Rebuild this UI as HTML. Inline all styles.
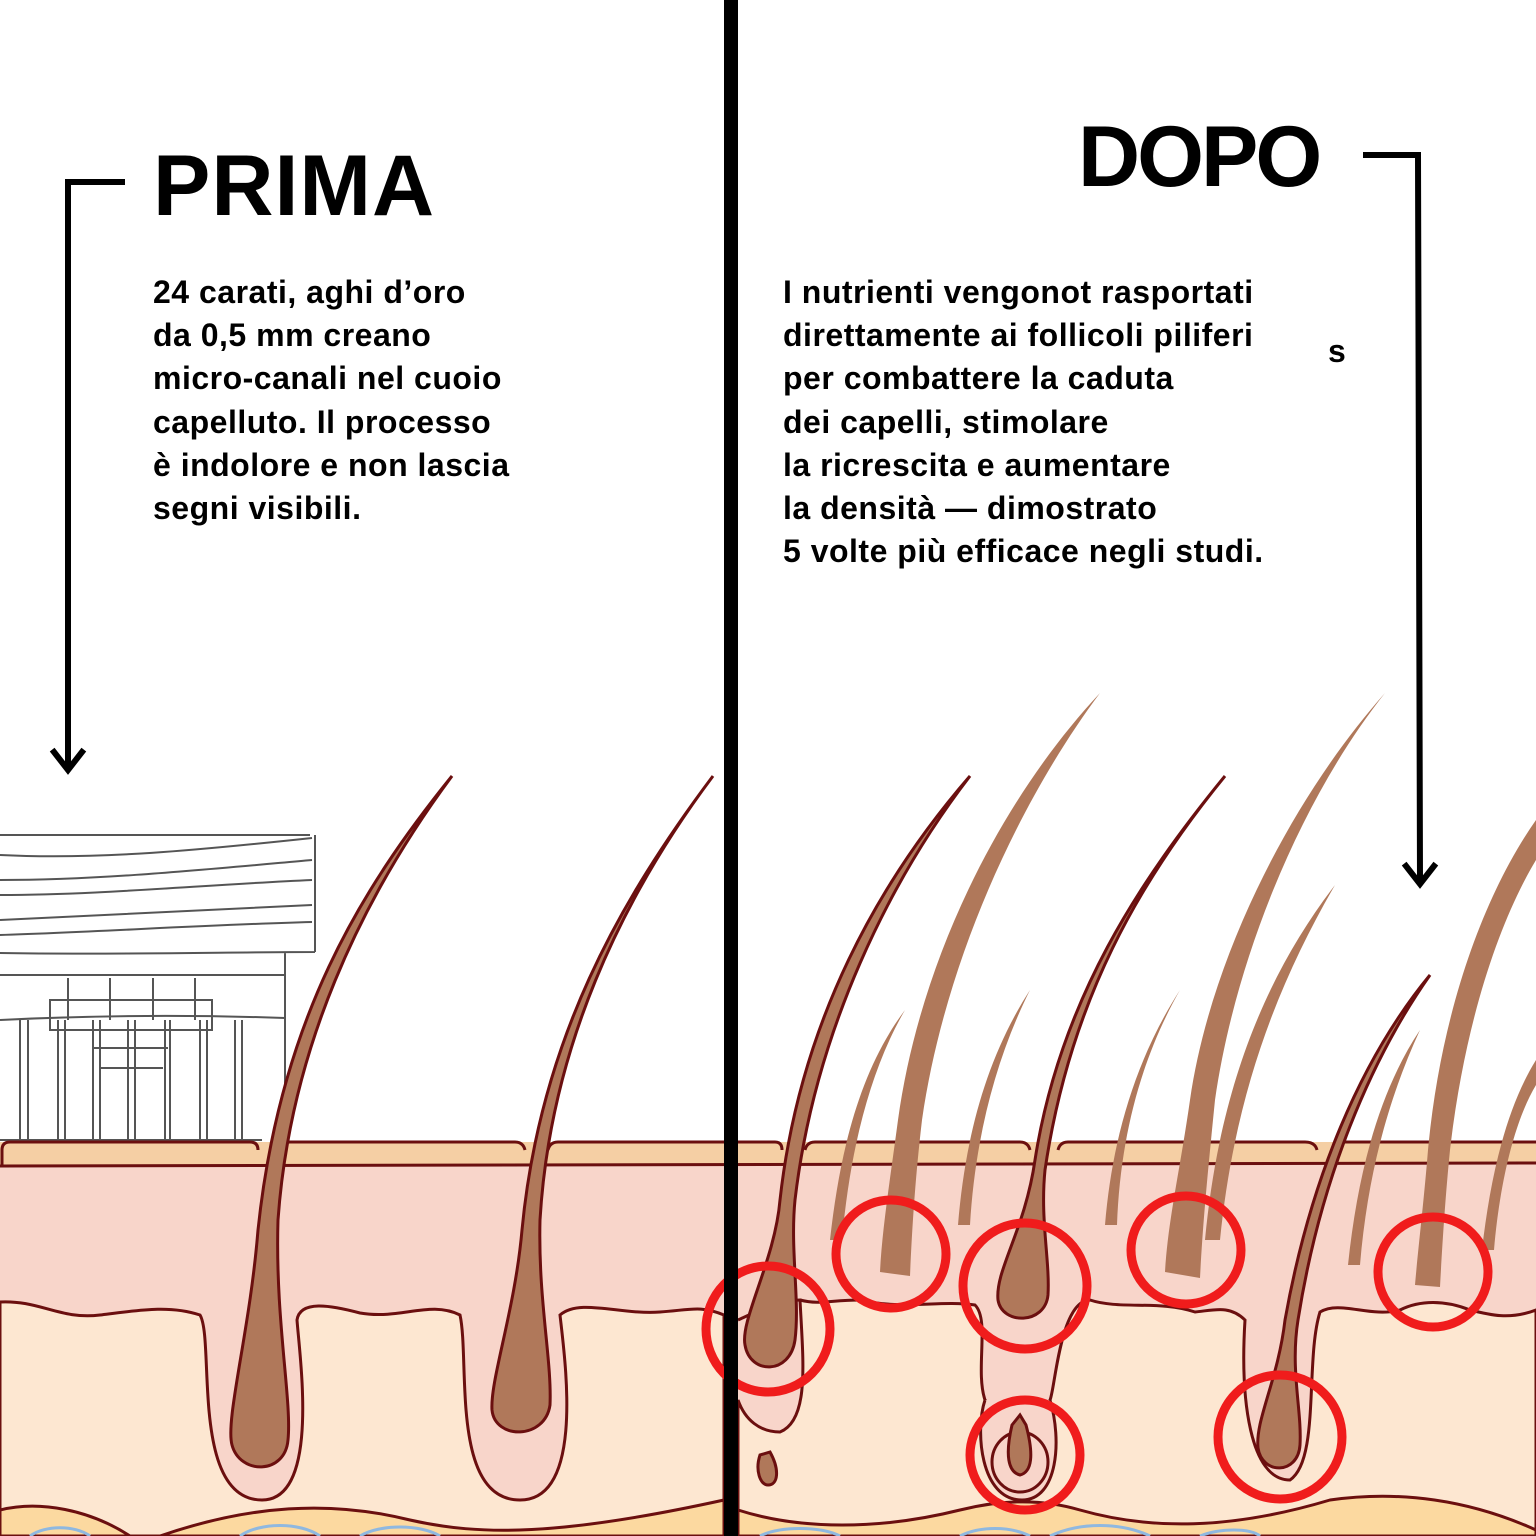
<!DOCTYPE html>
<html><head><meta charset="utf-8"><style>
html,body{margin:0;padding:0;background:#fff}
body{width:1536px;height:1536px;overflow:hidden;position:relative;font-family:"Liberation Sans",sans-serif}
.t{position:absolute;color:#000;font-size:32px;line-height:43.2px;font-weight:bold;letter-spacing:0.5px;-webkit-text-stroke:0px}
.h{position:absolute;font-weight:bold;font-size:86px;color:#000;letter-spacing:1px;line-height:1}
</style></head><body>
<svg width="1536" height="1536" style="position:absolute;left:0;top:0">
<rect x="0" y="1142" width="1536" height="394" fill="#f8d5ca"/>
<path d="M0,1142 H1536 V1163 L0,1166 Z" fill="#f5cfa4"/>
<path d="M0,1166 L1536,1163" stroke="#6b0f0f" stroke-width="3"/>
<path d="M0,1302 C40,1300 60,1320 100,1315 C140,1310 170,1305 200,1315 C215,1340 190,1500 262,1500 C320,1500 300,1360 297,1320 C300,1300 330,1305 360,1313 C400,1320 430,1300 460,1315 C470,1360 450,1500 520,1500 C585,1500 565,1360 560,1315 C580,1298 620,1315 660,1312 C690,1310 700,1305 724,1315 L724,1536 L0,1536 Z" fill="#fde7d1" stroke="#6b0f0f" stroke-width="3"/>
<path d="M738,1320 C760,1310 780,1300 800,1300 C803,1360 810,1420 780,1432 C760,1432 745,1420 738,1400 L738,1536 L1536,1536 L1536,1310 C1510,1320 1490,1315 1470,1310 C1445,1300 1420,1300 1400,1310 C1370,1318 1340,1300 1320,1312 C1305,1360 1320,1460 1290,1480 C1250,1480 1240,1400 1245,1320 C1230,1305 1215,1310 1195,1312 C1160,1300 1120,1310 1090,1300 C1060,1300 1055,1390 1050,1400 C1040,1420 1000,1420 985,1400 C975,1370 990,1320 975,1305 C940,1300 900,1310 860,1300 C830,1300 820,1305 800,1300" fill="#fde7d1" stroke="#6b0f0f" stroke-width="3"/>
<path d="M0,1510 C40,1500 90,1510 130,1536 L0,1536 Z M160,1536 C250,1505 330,1500 410,1520 C480,1536 560,1536 724,1500 L724,1536 Z" fill="#fcd9a0" stroke="#6b0f0f" stroke-width="3"/>
<path d="M738,1510 C800,1530 880,1530 960,1510 C1000,1500 1040,1498 1080,1510 C1150,1530 1230,1530 1330,1500 C1400,1490 1470,1500 1536,1530 L1536,1536 L738,1536 Z" fill="#fcd9a0" stroke="#6b0f0f" stroke-width="3"/>
<path d="M30,1536 C45,1525 75,1525 90,1536 M240,1536 C260,1522 300,1522 320,1536 M360,1536 C380,1524 420,1524 440,1536 M760,1536 C780,1526 820,1526 840,1536 M960,1536 C980,1526 1010,1526 1030,1536 M1050,1536 C1080,1522 1120,1522 1150,1536 M1200,1536 C1220,1528 1250,1528 1260,1536" fill="none" stroke="#8fb8e0" stroke-width="3"/>
<g fill="none" stroke="#555" stroke-width="2">
<path d="M0,835 H310 M0,855 C100,860 200,850 312,838 M0,880 C100,880 200,870 312,860 M0,895 C100,895 200,885 312,880 M0,920 C100,915 200,910 312,905 M0,935 C100,932 200,925 312,922 M0,953 C120,955 230,952 315,952 M315,835 V952 M0,975 H285 M285,952 V1140 M0,1020 C100,1015 200,1015 285,1018"/>
<path d="M68,978 V1020 M110,978 V1020 M153,978 V1020 M195,978 V1020 M50,1000 H212 V1030 H50 Z M20,1020 V1140 M28,1020 V1140 M58,1020 V1140 M65,1020 V1140 M93,1020 V1140 M100,1020 V1140 M128,1020 V1140 M135,1020 V1140 M165,1020 V1140 M170,1020 V1140 M200,1020 V1140 M207,1020 V1140 M235,1020 V1140 M242,1020 V1140 M93,1048 H168 M100,1068 H163 M0,1140 H262"/>
</g>
<g fill="none" stroke="#6b0f0f" stroke-width="3">
<path d="M2,1166 V1150 Q2,1142 10,1142 H250 Q258,1142 258,1150 M282,1150 Q282,1142 290,1142 H515 Q523,1142 525,1150 M548,1150 Q550,1142 558,1142 H724 M738,1142 H775 Q782,1142 782,1150 M805,1150 Q807,1142 815,1142 H1020 Q1028,1142 1030,1150 M1058,1150 Q1060,1142 1068,1142 H1305 Q1315,1142 1317,1150 M1332,1150 Q1335,1142 1342,1142 H1536"/>
</g>
<g fill="#b0785a" stroke="#6b0f0f" stroke-width="3">
<path d="M452,776 C360,890 280,1020 258,1230 C250,1330 225,1420 232,1445 C240,1475 285,1475 288,1440 C292,1400 275,1320 278,1220 C290,1050 360,900 452,776 Z"/>
<path d="M713,776 C620,900 540,1040 522,1230 C515,1310 490,1380 492,1410 C495,1440 545,1440 550,1405 C552,1360 538,1300 540,1220 C550,1050 620,900 713,776 Z"/>
</g>
<g fill="#f8d5ca" stroke="#6b0f0f" stroke-width="3">
<path d="M985,1400 C975,1430 980,1500 1022,1500 C1058,1500 1062,1440 1050,1400"/>
<ellipse cx="1020" cy="1462" rx="28" ry="30"/>
<path d="M760,1455 C755,1470 760,1485 768,1485 C778,1485 780,1470 770,1452 Z" fill="#b0785a"/>
</g>
<g fill="#b0785a" stroke="#6b0f0f" stroke-width="3">
<path d="M970,776 C880,880 800,1020 780,1200 C775,1260 740,1320 745,1345 C750,1375 790,1375 795,1340 C800,1300 790,1250 795,1200 C815,1030 890,880 970,776 Z"/>
<path d="M1225,776 C1140,880 1060,1000 1035,1160 C1025,1230 995,1270 998,1300 C1002,1325 1045,1325 1048,1295 C1050,1260 1040,1220 1045,1170 C1070,1000 1140,880 1225,776 Z"/>
<path d="M1430,975 C1360,1060 1310,1180 1285,1320 C1278,1380 1255,1420 1258,1448 C1262,1475 1298,1475 1300,1445 C1302,1410 1290,1370 1298,1320 C1320,1180 1370,1060 1430,975 Z"/>
<path d="M1012,1425 C1005,1455 1008,1472 1020,1475 C1032,1472 1034,1455 1026,1425 L1020,1415 Z"/>
</g>
<g fill="#b0785a">
<path d="M1100,693 C1000,800 920,960 898,1120 C890,1180 882,1230 880,1272 L910,1276 C912,1230 915,1180 922,1120 C945,960 1020,800 1100,693 Z"/>
<path d="M1385,693 C1290,800 1210,960 1190,1100 C1180,1170 1168,1220 1165,1272 L1200,1278 C1203,1220 1208,1170 1215,1100 C1235,960 1300,800 1385,693 Z"/>
<path d="M1536,820 C1480,900 1440,1020 1428,1150 C1424,1200 1418,1250 1415,1285 L1440,1287 C1442,1250 1445,1200 1450,1150 C1465,1020 1500,920 1536,860 Z"/>
<path d="M905,1010 C860,1070 840,1150 830,1240 L842,1240 C850,1150 870,1070 905,1010 Z"/>
<path d="M1030,990 C985,1060 965,1140 958,1225 L970,1225 C975,1140 995,1060 1030,990 Z"/>
<path d="M1180,990 C1135,1060 1112,1140 1105,1225 L1117,1225 C1120,1140 1140,1060 1180,990 Z"/>
<path d="M1335,885 C1270,970 1220,1080 1205,1240 L1220,1240 C1235,1090 1280,980 1335,885 Z"/>
<path d="M1420,1030 C1380,1090 1358,1170 1348,1265 L1360,1265 C1368,1170 1390,1095 1420,1030 Z"/>
<path d="M1536,1060 C1505,1110 1490,1180 1482,1250 L1494,1250 C1500,1180 1515,1120 1536,1085 Z"/>
</g>
<g fill="none" stroke="#f01c1c" stroke-width="9">
<ellipse cx="768" cy="1329" rx="62" ry="63"/>
<ellipse cx="891" cy="1254" rx="55" ry="54"/>
<ellipse cx="1025" cy="1286" rx="62" ry="63"/>
<ellipse cx="1186" cy="1250" rx="55" ry="54"/>
<ellipse cx="1433" cy="1272" rx="55" ry="55"/>
<ellipse cx="1025" cy="1455" rx="55" ry="55"/>
<ellipse cx="1280" cy="1437" rx="62" ry="62"/>
</g>
<rect x="724" y="0" width="14" height="1536" fill="#000"/>
<g fill="none" stroke="#000" stroke-width="6" stroke-linecap="square">
<path d="M122,182 H68 V768"/>
<path d="M54,752 L68,770 L82,752"/>
<path d="M1366,155 H1418 L1420,882"/>
<path d="M1406,866 L1420,884 L1434,866"/>
</g>
</svg>
<div class="h" style="left:153px;top:143px">PRIMA</div>
<div class="h" style="left:1078px;top:114px;letter-spacing:-3px">DOPO</div>
<div class="t" style="left:153px;top:271px">24 carati, aghi d’oro<br>da 0,5 mm creano<br>micro-canali nel cuoio<br>capelluto. Il processo<br>è indolore e non lascia<br>segni visibili.</div>
<div class="t" style="left:783px;top:271px">I nutrienti vengonot rasportati<br>direttamente ai follicoli piliferi<br>per combattere la caduta<br>dei capelli, stimolare<br>la ricrescita e aumentare<br>la densità — dimostrato<br>5 volte più efficace negli studi.</div>
<div class="t" style="left:1328px;top:330px">s</div>
</body></html>
